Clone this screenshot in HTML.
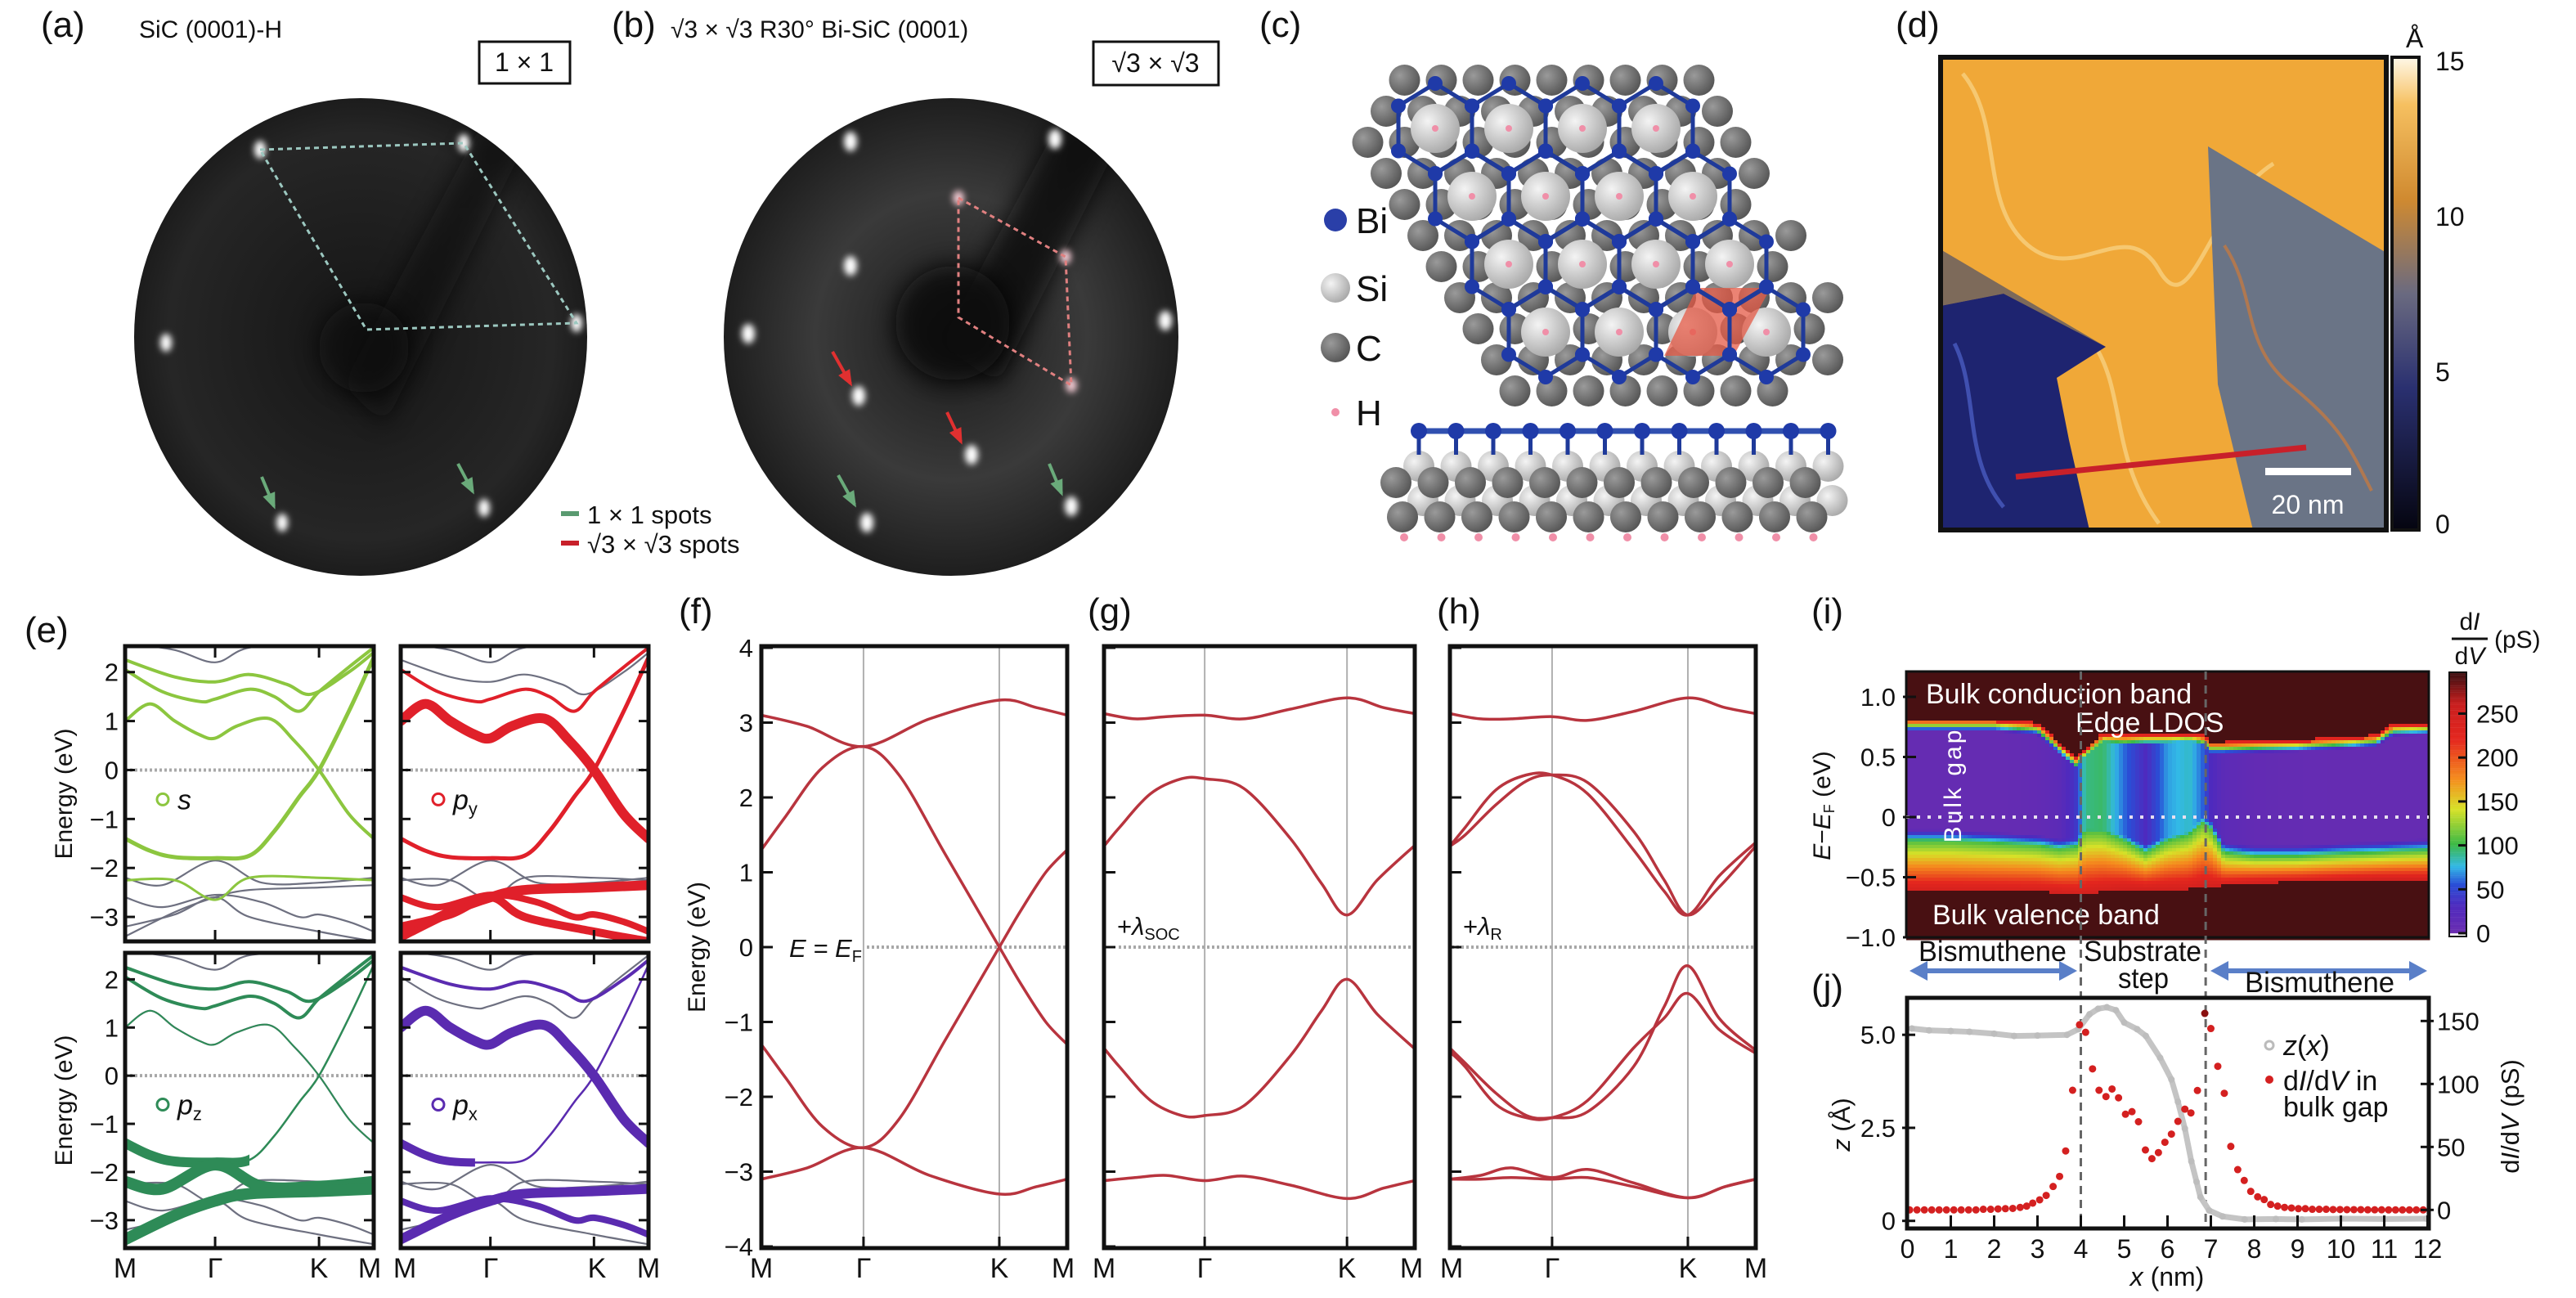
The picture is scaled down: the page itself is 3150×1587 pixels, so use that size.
<!DOCTYPE html>
<html><head><meta charset="utf-8"><style>
html,body{margin:0;padding:0;background:#fff;}
svg{display:block;}
text{font-family:"Liberation Sans Narrow","Liberation Sans",sans-serif;fill:#111;}
</style></head><body>
<svg id="fig" width="3150" height="1587" viewBox="0 0 3150 1587" xmlns="http://www.w3.org/2000/svg">
<defs>
<filter id="blur" x="-1" y="-1" width="3" height="3"><feGaussianBlur stdDeviation="4"/></filter>
<filter id="blur2" x="-1" y="-1" width="3" height="3"><feGaussianBlur stdDeviation="14"/></filter>
<radialGradient id="leedA" cx="0.5" cy="0.5" r="0.5"><stop offset="0" stop-color="#151515"/><stop offset="0.85" stop-color="#262626"/><stop offset="1" stop-color="#1c1c1c"/></radialGradient>
<radialGradient id="leedB" cx="0.5" cy="0.5" r="0.5"><stop offset="0" stop-color="#0e0e0e"/><stop offset="0.3" stop-color="#2a2a2a"/><stop offset="0.6" stop-color="#3a3a3a"/><stop offset="1" stop-color="#1e1e1e"/></radialGradient>
<radialGradient id="siGrad" cx="0.35" cy="0.35" r="0.7"><stop offset="0" stop-color="#f4f4f4"/><stop offset="1" stop-color="#a8a8a8"/></radialGradient>
<radialGradient id="cGrad" cx="0.35" cy="0.35" r="0.7"><stop offset="0" stop-color="#9a9a9a"/><stop offset="1" stop-color="#555"/></radialGradient>
<linearGradient id="stmBar" x1="0" y1="1" x2="0" y2="0"><stop offset="0" stop-color="#050510"/><stop offset="0.3" stop-color="#2a3070"/><stop offset="0.5" stop-color="#6a6a80"/><stop offset="0.7" stop-color="#d08a30"/><stop offset="0.9" stop-color="#f6c060"/><stop offset="1" stop-color="#fff8e8"/></linearGradient>
<clipPath id="clipLeedA"><ellipse cx="441" cy="412" rx="277" ry="292"/></clipPath>
<clipPath id="clipLeedB"><ellipse cx="1163" cy="412" rx="278" ry="292"/></clipPath>
</defs>

<!-- Panel labels -->
<text x="50" y="45" font-size="44">(a)</text>
<text x="170" y="46" font-size="30">SiC (0001)-H</text>
<rect x="586" y="51" width="111" height="51" fill="none" stroke="#111" stroke-width="3"/>
<text x="641" y="87" font-size="32" text-anchor="middle">1 × 1</text>
<text x="748" y="45" font-size="44">(b)</text>
<text x="820" y="46" font-size="30">√3 × √3 R30° Bi-SiC (0001)</text>
<rect x="1337" y="51" width="153" height="53" fill="none" stroke="#111" stroke-width="3"/>
<text x="1413" y="88" font-size="32" text-anchor="middle">√3 × √3</text>
<text x="1540" y="45" font-size="44">(c)</text>
<text x="2318" y="45" font-size="44">(d)</text>

<g id="leed"></g>
<g id="lattice"></g>
<g id="stm"></g>

<text x="30" y="785" font-size="44">(e)</text>
<text x="830" y="762" font-size="44">(f)</text>
<text x="1330" y="762" font-size="44">(g)</text>
<text x="1757" y="762" font-size="44">(h)</text>
<text x="2215" y="762" font-size="44">(i)</text>
<text x="2215" y="1222" font-size="44">(j)</text>

<g id="bands"></g>
<g id="heat"></g>
<g id="profile"></g>
</svg>
<script>
// ---------- DATA ----------
// Panel e: band energies (eV) at k-fractions along M-Γ-K-M (Γ=0.362, K=0.78)
const eb0k=[0,0.1,0.2,0.362,0.5,0.6,0.7,0.78,0.9,1];
const eb0E=[-1.4,-1.65,-1.78,-1.8,-1.75,-1.25,-0.55,0,1.2,2.3];
const eb1k=[0,0.1,0.2,0.3,0.362,0.45,0.58,0.68,0.78,0.9,1];
const eb1E=[1.0,1.35,1.0,0.72,0.65,0.9,1.05,0.6,0,-0.9,-1.4];
const eb2k=[0,0.2,0.362,0.5,0.65,0.75,0.9,1];
const eb2E=[2.25,1.9,1.8,1.95,1.75,1.55,2.0,2.4];
const eb3k=[0,0.15,0.3,0.362,0.5,0.6,0.7,0.78,0.9,1];
const eb3E=[2.05,1.6,1.4,1.45,1.65,1.5,1.2,1.6,2.1,2.5];
const eb4k=[0,0.2,0.362,0.5,0.78,1];
const eb4E=[2.6,2.45,2.2,2.5,2.6,2.7];
const eb5k=[0,0.15,0.362,0.55,0.78,1];
const eb5E=[-2.2,-2.35,-1.85,-2.3,-2.3,-2.2];
const eb6k=[0,0.2,0.362,0.5,0.78,1];
const eb6E=[-3.4,-2.9,-2.6,-2.45,-2.4,-2.35];
const eb7k=[0,0.15,0.362,0.55,0.7,0.78,0.9,1];
const eb7E=[-2.6,-2.8,-2.55,-2.7,-3.0,-2.95,-3.1,-3.3];
const eb8k=[0,0.2,0.362,0.5,0.78,1];
const eb8E=[-3.2,-2.95,-2.6,-3.0,-3.3,-3.5];
const eb9k=[0,0.2,0.362,0.5,0.78,1];
const eb9E=[-2.25,-2.25,-2.65,-2.2,-2.2,-2.25];
// overlay widths per orbital panel (index = band number)
const eWidthS =[5,4,4,4,0,0,0,0,0,3];
const eWidthPy=[5,12,0,4,0,0,12,8,10,0];
const eWidthPz=[12,2,4,4,0,14,14,0,0,0];
const eWidthPx=[10,12,4,0,0,0,12,8,0,0];
// maximum k of the thick overlay (orbital weight fades beyond)
const eKmaxS =[1,1,1,1,1,1,1,1,1,1];
const eKmaxPy=[1,1,1,1,1,1,1,1,1,1];
const eKmaxPz=[0.5,1,1,1,1,1,1,1,1,1];
const eKmaxPx=[0.3,1,1,1,1,1,1,1,1,1];
const eTicks=[2,1,0,-1,-2,-3];

// Panel f (no SOC)
const fB1k=[0,0.15,0.334,0.55,0.778,0.9,1];
const fB1E=[3.1,2.95,2.68,3.05,3.3,3.2,3.1];
const fUpk=[0,0.08,0.2,0.334,0.45,0.6,0.778,0.85,0.93,1];
const fUpE=[1.3,1.75,2.4,2.68,2.3,1.25,0,-0.5,-1.0,-1.3];
const fDnE=[-1.3,-1.75,-2.4,-2.68,-2.3,-1.25,0,0.5,1.0,1.3];
const fB4E=[-3.1,-2.95,-2.68,-3.05,-3.3,-3.2,-3.1];
const fTicks=[4,3,2,1,0,-1,-2,-3,-4];
// Panel g (+SOC)
const gB1k=[0,0.1,0.2,0.324,0.45,0.6,0.782,0.9,1];
const gB1E=[3.12,3.05,3.08,3.1,3.05,3.18,3.33,3.2,3.12];
const gB4E=[-3.12,-3.08,-3.05,-3.12,-3.06,-3.18,-3.36,-3.22,-3.12];
const gB2k=[0,0.05,0.15,0.25,0.324,0.45,0.6,0.7,0.782,0.88,1];
const gB2E=[1.35,1.6,2.05,2.25,2.25,2.12,1.45,0.85,0.43,0.9,1.36];
const gB3E=[-1.35,-1.6,-2.05,-2.25,-2.25,-2.12,-1.45,-0.85,-0.43,-0.9,-1.36];
// Panel h (+Rashba)
const hB1k=[0,0.1,0.2,0.334,0.45,0.6,0.778,0.9,1];
const hB1E=[3.12,3.05,3.05,3.08,3.03,3.15,3.33,3.2,3.12];
const hB2k=[0,0.05,0.15,0.25,0.334,0.45,0.6,0.7,0.778,0.88,1];
const hB2aE=[1.35,1.6,2.1,2.3,2.3,2.05,1.3,0.75,0.43,0.95,1.4];
const hB2bE=[1.35,1.5,1.9,2.22,2.3,2.2,1.55,0.9,0.43,0.8,1.35];
const hB3aE=[-1.35,-1.55,-1.95,-2.25,-2.28,-2.2,-1.6,-0.8,-0.25,-0.95,-1.38];
const hB3bE=[-1.4,-1.6,-2.1,-2.28,-2.28,-2.05,-1.35,-0.95,-0.62,-1.1,-1.42];
const hB4aE=[-3.1,-3.05,-2.95,-3.08,-2.97,-3.15,-3.35,-3.2,-3.1];
const hB4bE=[-3.1,-3.1,-3.08,-3.1,-3.08,-3.2,-3.35,-3.2,-3.1];

// Panel i heatmap columns
const hmX  =[0,1,2,3,3.5,3.9,4.1,4.5,5,5.5,6,6.5,6.8,7,7.3,8,9,10,10.8,11.2,12];
const hmCB =[0.79,0.79,0.79,0.76,0.6,0.47,0.55,0.67,0.66,0.67,0.67,0.68,0.66,0.6,0.6,0.61,0.62,0.64,0.66,0.75,0.76];
const hmVB =[-0.2,-0.2,-0.22,-0.24,-0.27,-0.25,-0.12,-0.12,-0.2,-0.3,-0.2,-0.15,-0.05,-0.1,-0.3,-0.33,-0.33,-0.31,-0.3,-0.29,-0.28];
const hmGap=[5,5,5,8,15,40,90,95,60,30,70,80,60,30,15,8,6,5,5,5,5];
const hmRed=[-0.62,-0.62,-0.62,-0.62,-0.63,-0.64,-0.64,-0.62,-0.6,-0.6,-0.6,-0.6,-0.58,-0.58,-0.57,-0.55,-0.54,-0.53,-0.52,-0.52,-0.52];
const iTicks=[1.0,0.5,0,-0.5,-1.0];
const iTickLabels=["1.0","0.5","0","−0.5","−1.0"];
const cbTicks=[250,200,150,100,50,0];

// Panel j profile
const zX=[0.1,0.5,1.0,1.43,2.0,2.46,3.0,3.68,3.94,4.2,4.4,4.6,4.81,5.0,5.3,5.5,5.83,6.09,6.24,6.4,6.55,6.67,6.76,6.96,7.27,7.78,8.5,9.1,10,11,11.97];
const zY=[5.17,5.12,5.1,5.08,5.03,4.97,4.98,5.0,5.15,5.55,5.7,5.74,5.66,5.33,5.15,4.97,4.38,3.8,3.2,2.48,1.6,1.05,0.64,0.28,0.12,0.04,0.05,0.04,0.06,0.05,0.06];
const dX=[0.05,0.22,0.39,0.56,0.73,0.9,1.07,1.24,1.41,1.58,1.75,1.92,2.09,2.26,2.43,2.6,2.75,2.89,3.05,3.2,3.36,3.51,3.65,3.81,3.97,4.11,4.27,4.42,4.58,4.72,4.87,5.03,5.18,5.33,5.49,5.64,5.79,5.94,6.09,6.24,6.4,6.54,6.69,6.86,7.0,7.16,7.31,7.46,7.62,7.77,7.92,8.08,8.23,8.38,8.54,8.7,8.86,9.02,9.18,9.34,9.5,9.66,9.82,9.98,10.14,10.3,10.46,10.62,10.78,10.94,11.1,11.26,11.42,11.58,11.74,11.9];
const dY=[0,0,0,0,0,0,0,0,0,0,0.5,0.5,0.8,1,1.2,2,3,5.4,8,11.5,18.6,26.6,46.8,95,147,141,112,95,90,96,89,76,78,70,47.6,40.7,45.5,53.7,60.2,70.3,80,77,94.8,156,144,114,92.6,50.4,32,23.4,14.7,10.4,8.2,4.3,3,2,1.5,1,1,0.5,0.5,0.5,0.3,0.3,0.2,0.2,0.2,0.1,0.1,0.1,0,0,0,0,0,0];
const jxTicks=[0,1,2,3,4,5,6,7,8,9,10,11,12];
const jzTicks=[5.0,2.5,0];
const jzTickLabels=["5.0","2.5","0"];
const jdTicks=[150,100,50,0];

// ---------- HELPERS ----------
const NS='http://www.w3.org/2000/svg';
function mk(tag,attrs,parent){const e=document.createElementNS(NS,tag);for(const k in attrs)e.setAttribute(k,attrs[k]);parent.appendChild(e);return e;}
function smooth(pts){let d='M'+pts[0][0].toFixed(1)+','+pts[0][1].toFixed(1);for(let i=0;i<pts.length-1;i++){const p0=pts[i-1]||pts[i],p1=pts[i],p2=pts[i+1],p3=pts[i+2]||pts[i+1];const c1=[p1[0]+(p2[0]-p0[0])/6,p1[1]+(p2[1]-p0[1])/6],c2=[p2[0]-(p3[0]-p1[0])/6,p2[1]-(p3[1]-p1[1])/6];d+=' C'+c1[0].toFixed(1)+','+c1[1].toFixed(1)+' '+c2[0].toFixed(1)+','+c2[1].toFixed(1)+' '+p2[0].toFixed(1)+','+p2[1].toFixed(1);}return d;}
function interp(xs,ys,x){if(x<=xs[0])return ys[0];for(let i=1;i<xs.length;i++){if(x<=xs[i]){const t=(x-xs[i-1])/(xs[i]-xs[i-1]);return ys[i-1]+t*(ys[i]-ys[i-1]);}}return ys[ys.length-1];}
const stops=[[0,[106,44,176]],[30,[78,42,190]],[55,[40,80,215]],[75,[50,185,230]],[100,[60,185,70]],[140,[215,225,40]],[175,[245,140,30]],[220,[228,38,30]],[260,[200,30,30]],[292,[72,16,18]]];
function cmap(v){v=Math.max(0,Math.min(292,v));for(let i=1;i<stops.length;i++){if(v<=stops[i][0]){const a=stops[i-1],b=stops[i],t=(v-a[0])/(b[0]-a[0]);const c=a[1].map((x,j)=>Math.round(x+t*(b[1][j]-x)));return 'rgb('+c.join(',')+')';}}return 'rgb(72,16,18)';}

const svg=document.getElementById('fig');

// ---------- LEED (a,b) ----------
const leed=document.getElementById('leed');
const ea=mk('ellipse',{cx:441,cy:412,rx:277,ry:292,fill:'url(#leedA)'},leed);


const shA=mk('g',{"clip-path":'url(#clipLeedA)'},leed);
mk('polygon',{points:'420,470 470,520 640,180 590,150',fill:'#101010',opacity:0.6,filter:'url(#blur2)'},shA);
mk('circle',{cx:445,cy:425,r:55,fill:'#0c0c0c',opacity:0.7,filter:'url(#blur2)'},shA);
const eb=mk('ellipse',{cx:1163,cy:412,rx:278,ry:292,fill:'url(#leedB)'},leed);


const shB=mk('g',{"clip-path":'url(#clipLeedB)'},leed);
mk('polygon',{points:'1150,420 1220,470 1370,170 1300,140',fill:'#0c0c0c',opacity:0.85,filter:'url(#blur2)'},shB);
mk('circle',{cx:1165,cy:395,r:70,fill:'#080808',opacity:0.9,filter:'url(#blur2)'},shB);
const spotsA=[[318,183],[567,175],[705,395],[203,419],[345,639],[592,621]];
spotsA.forEach(p=>{const s=mk('ellipse',{cx:p[0],cy:p[1],rx:7,ry:11,fill:'#fff',filter:'url(#blur)'},leed);});
const spotsB=[[1040,173],[1290,170],[1040,325],[915,408],[1425,392],[1050,484],[1188,556],[1060,639],[1310,619]];
spotsB.forEach(p=>{const s=mk('ellipse',{cx:p[0],cy:p[1],rx:8,ry:12,fill:'#fff',filter:'url(#blur)'},leed);});
[[1172,242],[1303,314],[1310,471]].forEach(p=>{const s=mk('ellipse',{cx:p[0],cy:p[1],rx:7,ry:9,fill:'#f0c8d0',filter:'url(#blur)'},leed);});
const ua=mk('polygon',{points:'318,183 567,175 705,395 448,403',fill:'none',stroke:'#9cc8c0',"stroke-width":3,"stroke-dasharray":'6,5'},leed);


const ub=mk('polygon',{points:'1172,242 1303,314 1310,471 1172,388',fill:'none',stroke:'#e08080',"stroke-width":3,"stroke-dasharray":'6,5'},leed);


function arrow(x1,y1,x2,y2,col,name){const g=mk('g',{},leed);mk('line',{x1:x1,y1:y1,x2:x2,y2:y2,stroke:col,"stroke-width":4},g);const a=Math.atan2(y2-y1,x2-x1),L=16,W=8;const bx=x2-L*Math.cos(a),by=y2-L*Math.sin(a);mk('polygon',{points:`${x2+4*Math.cos(a)},${y2+4*Math.sin(a)} ${bx-W*Math.sin(a)},${by+W*Math.cos(a)} ${bx+W*Math.sin(a)},${by-W*Math.cos(a)}`,fill:col},g);}
arrow(320,583,335,619,'#6aaa7a','green-arrow');arrow(560,567,578,601,'#6aaa7a','green-arrow');
arrow(1025,581,1045,617,'#6aaa7a','green-arrow');arrow(1283,567,1298,603,'#6aaa7a','green-arrow');
arrow(1018,430,1040,469,'#e03030','red-arrow');arrow(1158,504,1175,540,'#e03030','red-arrow');
const lg1=mk('rect',{x:686,y:625,width:22,height:6,fill:'#5a9a70'},leed);


const lg2=mk('rect',{x:686,y:661,width:22,height:6,fill:'#c8202a'},leed);


const lt1=mk('text',{x:718,y:640,"font-size":31},leed);lt1.textContent='1 × 1 spots';


const lt2=mk('text',{x:718,y:676,"font-size":31},leed);lt2.textContent='√3 × √3 spots';



// ---------- Lattice (c) ----------
const lat=document.getElementById('lattice');
const hexC=[];for(let j=0;j<=3;j++){for(let i=0;i<4;i++){hexC.push([1755+90*i+45*j,157+83*j]);}}
function nearHex(x,y){return hexC.some(c=>{const dx=x-c[0],dy=y-c[1];return dx*dx+dy*dy<88*88;});}
for(let j=-2;j<16;j++){for(let i=-4;i<16;i++){const x=1650+i*45+j*22.5,y=60+j*38;if(y>55&&y<490&&nearHex(x,y)){mk('circle',{cx:x,cy:y,r:19,fill:'url(#cGrad)'},lat);}}}
hexC.forEach(c=>{mk('circle',{cx:c[0],cy:c[1],r:30,fill:'url(#siGrad)'},lat);mk('circle',{cx:c[0],cy:c[1],r:4,fill:'#f08fa8'},lat);});
const rh=mk('polygon',{points:'2075,352 2165,352 2120,435 2035,435',fill:'rgba(228,90,70,0.75)'},lat);


const hexNodes=[];
hexC.forEach(c=>{const v=[[0,-55],[45,-27.5],[45,27.5],[0,55],[-45,27.5],[-45,-27.5]].map(o=>[c[0]+o[0],c[1]+o[1]]);let d='M'+v.map(p=>p.join(',')).join(' L')+' Z';const h=mk('path',{d:d,fill:'none',stroke:'#1f3a9a',"stroke-width":5},lat);v.forEach(p=>hexNodes.push(p));});
hexNodes.forEach(p=>mk('circle',{cx:p[0],cy:p[1],r:9,fill:'#1f3aa8'},lat));
[['Bi',269,'#2a3fa8',14],['Si',352,'url(#siGrad)',18],['C',425,'url(#cGrad)',18],['H',504,'#f08fa8',5]].forEach((l,idx)=>{const c=mk('circle',{cx:1633,cy:l[1],r:l[3],fill:l[2]},lat);const t=mk('text',{x:1658,y:l[1]+16,"font-size":44},lat);t.textContent=l[0];});
const sideG=mk('g',{},lat);


for(let k=0;k<12;k++){const x=1735+k*45.5;mk('circle',{cx:x+5,cy:612,r:19,fill:'url(#siGrad)'},sideG);mk('circle',{cx:x-20,cy:632,r:19,fill:'url(#cGrad)'},sideG);mk('circle',{cx:x-18,cy:657,r:5,fill:'#f08fa8'},sideG);}
for(let k=0;k<12;k++){const x=1735+k*45.5;mk('circle',{cx:x,cy:570,r:19,fill:'url(#siGrad)'},sideG);mk('circle',{cx:x-28,cy:590,r:19,fill:'url(#cGrad)'},sideG);mk('line',{x1:x,y1:527,x2:x,y2:556,stroke:'#1f3a9a',"stroke-width":5},sideG);}
mk('line',{x1:1735,y1:527,x2:2235,y2:527,stroke:'#3050b0',"stroke-width":7},sideG);
for(let k=0;k<12;k++){mk('circle',{cx:1735+k*45.5,cy:527,r:10,fill:'#1f3aa8'},sideG);}

// ---------- STM (d) ----------
const stm=document.getElementById('stm');
const sb=mk('rect',{x:2373,y:70,width:545,height:578,fill:'#f0a838'},stm);


mk('path',{d:'M2400,90 C2450,150 2420,250 2480,300 S2600,260 2640,330 S2700,250 2780,200 M2560,420 C2600,480 2580,560 2640,640',fill:'none',stroke:'#f8d080',"stroke-width":5,opacity:0.8},stm);
mk('polygon',{points:'2373,305 2575,424 2450,359 2373,374',fill:'#7d6a5a'},stm);
mk('polygon',{points:'2373,374 2450,359 2575,424 2515,462 2530,538 2555,648 2373,648',fill:'#1e2470'},stm);
mk('path',{d:'M2390,420 C2420,480 2400,560 2450,620',fill:'none',stroke:'#4050b0',"stroke-width":5},stm);
mk('polygon',{points:'2700,179 2918,309 2918,648 2755,648 2712,470',fill:'#6a7486'},stm);
mk('path',{d:'M2720,300 C2760,360 2740,420 2800,470 S2870,540 2900,600',fill:'none',stroke:'#b07850',"stroke-width":4},stm);
const rl=mk('line',{x1:2465,y1:583,x2:2820,y2:547,stroke:'#c8202a',"stroke-width":7},stm);


const scb=mk('rect',{x:2770,y:572,width:105,height:9,fill:'#fff'},stm);


const sct=mk('text',{x:2822,y:628,"font-size":32,"text-anchor":'middle',fill:'#fff'},stm);sct.textContent='20 nm';sct.style.fill='#fff';


mk('rect',{x:2373,y:70,width:545,height:578,fill:'none',stroke:'#111',"stroke-width":6},stm);
const scbar=mk('rect',{x:2925,y:70,width:33,height:578,fill:'url(#stmBar)',stroke:'#111',"stroke-width":4},stm);


[['15',86],['10',276],['5',466],['0',652]].forEach(t=>{const e=mk('text',{x:2978,y:t[1],"font-size":32},stm);e.textContent=t[0];});
const ang=mk('text',{x:2942,y:58,"font-size":32},stm);ang.textContent='Å';



// ---------- Band structure panels ----------
const bandsG=document.getElementById('bands');
let clipId=0;
function panel(p,name){const g=mk('g',{},bandsG);const id='clip'+(clipId++);const cp=mk('clipPath',{id:id},g);mk('rect',{x:p.x0,y:p.y0,width:p.x1-p.x0,height:p.y1-p.y0},cp);const inner=mk('g',{"clip-path":'url(#'+id+')'},g);p.g=g;p.inner=inner;p.sx=k=>p.x0+k*(p.x1-p.x0);p.sy=E=>p.ey0+(p.Emax-E)/(p.Emax-p.Emin)*(p.ey1-p.ey0);return p;}
function band(p,ks,Es,col,w,name,kmax){const pts=ks.map((k,i)=>[p.sx(k),p.sy(Es[i])]);let parent=p.inner;if(kmax!==undefined&&kmax<1){const id='clip'+(clipId++);const cp=mk('clipPath',{id:id},p.g);mk('rect',{x:p.x0,y:p.y0,width:p.sx(kmax)-p.x0,height:p.y1-p.y0},cp);parent=mk('g',{"clip-path":'url(#'+id+')'},p.inner);}const e=mk('path',{d:smooth(pts),fill:'none',stroke:col,"stroke-width":w,"stroke-linecap":'round'},parent);return e;}
function frame(p){const r=mk('rect',{x:p.x0,y:p.y0,width:p.x1-p.x0,height:p.y1-p.y0,fill:'none',stroke:'#111',"stroke-width":5},p.g);}
function zeroLine(p,xs){const l=mk('line',{x1:xs,y1:p.sy(0),x2:p.x1,y2:p.sy(0),stroke:'#a8a8a8',"stroke-width":4,"stroke-dasharray":'3,3'},p.inner);}

const eBandsK=[eb0k,eb1k,eb2k,eb3k,eb4k,eb5k,eb6k,eb7k,eb8k,eb9k];
const eBandsE=[eb0E,eb1E,eb2E,eb3E,eb4E,eb5E,eb6E,eb7E,eb8E,eb9E];
const ePanels=[
 {x0:153,x1:457,y0:790,y1:1151,ey0:790,ey1:1151,Emin:-3.5,Emax:2.53,col:'#8cc63f',w:eWidthS,km:eKmaxS,lab:'s',name:'band-panel-s'},
 {x0:490,x1:793,y0:790,y1:1151,ey0:790,ey1:1151,Emin:-3.5,Emax:2.53,col:'#e0202a',w:eWidthPy,km:eKmaxPy,lab:'p',sub:'y',name:'band-panel-py'},
 {x0:153,x1:457,y0:1165,y1:1526,ey0:1165,ey1:1526,Emin:-3.58,Emax:2.55,col:'#2e8b57',w:eWidthPz,km:eKmaxPz,lab:'p',sub:'z',name:'band-panel-pz'},
 {x0:490,x1:793,y0:1165,y1:1526,ey0:1165,ey1:1526,Emin:-3.58,Emax:2.55,col:'#5a2bb0',w:eWidthPx,km:eKmaxPx,lab:'p',sub:'x',name:'band-panel-px'}];
ePanels.forEach((q,qi)=>{const p=panel(q,q.name);zeroLine(p,p.x0);
 eBandsK.forEach((k,i)=>band(p,k,eBandsE[i],'#6e7080',2.2,'band-gray'));
 eBandsK.forEach((k,i)=>{if(q.w[i]>0){band(p,k,eBandsE[i],q.col,q.w[i],'orbital-weight-band',q.km[i]);if(q.km[i]<1)band(p,k,eBandsE[i],q.col,2.5,'orbital-weight-band-thin');}});
 frame(p);
 [0.362,0.78].forEach(k=>{mk('line',{x1:p.sx(k),y1:p.y0,x2:p.sx(k),y2:p.y0+14,stroke:'#111',"stroke-width":3},p.g);mk('line',{x1:p.sx(k),y1:p.y1,x2:p.sx(k),y2:p.y1-14,stroke:'#111',"stroke-width":3},p.g);});
 eTicks.forEach(t=>{mk('line',{x1:p.x0,y1:p.sy(t),x2:p.x0+12,y2:p.sy(t),stroke:'#111',"stroke-width":3},p.g);mk('line',{x1:p.x1,y1:p.sy(t),x2:p.x1-12,y2:p.sy(t),stroke:'#111',"stroke-width":3},p.g);
   if(qi%2===0){const tl=mk('text',{x:p.x0-8,y:p.sy(t)+11,"font-size":31,"text-anchor":'end'},p.g);tl.textContent=t<0?'−'+(-t):String(t);}});
 const lc=mk('circle',{cx:p.x0+46,cy:p.sy(-0.6),r:7,fill:'none',stroke:q.col,"stroke-width":3},p.g);
 
 
 const lt=mk('text',{x:p.x0+64,y:p.sy(-0.6)+12,"font-size":34,"font-style":'italic'},p.g);lt.textContent=q.lab;
 if(q.sub){const ts=mk('tspan',{"font-size":22,dy:7,"font-style":'normal'},lt);ts.textContent=q.sub;}
 
 
 if(qi%2===0){const yl=mk('text',{x:0,y:0,"font-size":30,"text-anchor":'middle',transform:`translate(88,${(p.y0+p.y1)/2}) rotate(-90)`,"font-family":'Liberation Sans'},p.g);yl.textContent='Energy (eV)';}
});

const fgh=[
 {x0:931,x1:1305,y0:790,y1:1526,ey0:792,ey1:1524,Emin:-4,Emax:4,kG:0.334,kK:0.778,name:'band-panel-f',zx:1060},
 {x0:1350,x1:1730,y0:790,y1:1526,ey0:792,ey1:1524,Emin:-4,Emax:4,kG:0.324,kK:0.782,name:'band-panel-g',zx:1368},
 {x0:1773,x1:2147,y0:790,y1:1526,ey0:792,ey1:1524,Emin:-4,Emax:4,kG:0.334,kK:0.778,name:'band-panel-h',zx:1775}].map(q=>panel(q,q.name));
const RED='#b8343e';
fgh.forEach(p=>{[p.kG,p.kK].forEach(k=>{const v=mk('line',{x1:p.sx(k),y1:p.y0,x2:p.sx(k),y2:p.y1,stroke:'#b0b0b0',"stroke-width":2},p.inner);});zeroLine(p,p.zx);});
band(fgh[0],fB1k,fB1E,RED,3.5,'band-f-1');band(fgh[0],fUpk,fUpE,RED,3.5,'band-f-2');band(fgh[0],fUpk,fDnE,RED,3.5,'band-f-3');band(fgh[0],fB1k,fB4E,RED,3.5,'band-f-4');
band(fgh[1],gB1k,gB1E,RED,3.5,'band-g-1');band(fgh[1],gB2k,gB2E,RED,3.5,'band-g-2');band(fgh[1],gB2k,gB3E,RED,3.5,'band-g-3');band(fgh[1],gB1k,gB4E,RED,3.5,'band-g-4');
band(fgh[2],hB1k,hB1E,RED,3.5,'band-h-1');band(fgh[2],hB2k,hB2aE,RED,3.5,'band-h-2a');band(fgh[2],hB2k,hB2bE,RED,3.5,'band-h-2b');band(fgh[2],hB2k,hB3aE,RED,3.5,'band-h-3a');band(fgh[2],hB2k,hB3bE,RED,3.5,'band-h-3b');band(fgh[2],hB1k,hB4aE,RED,3.5,'band-h-4a');band(fgh[2],hB1k,hB4bE,RED,3.5,'band-h-4b');
fgh.forEach((p,pi)=>{frame(p);fTicks.forEach(t=>{mk('line',{x1:p.x0,y1:p.sy(t),x2:p.x0+14,y2:p.sy(t),stroke:'#111',"stroke-width":3},p.g);if(pi===0){const tl=mk('text',{x:p.x0-10,y:p.sy(t)+11,"font-size":31,"text-anchor":'end'},p.g);tl.textContent=t<0?'−'+(-t):String(t);}});
 [p.kG,p.kK].forEach(k=>mk('line',{x1:p.sx(k),y1:p.y1,x2:p.sx(k),y2:p.y1-14,stroke:'#111',"stroke-width":3},p.g));});
const fy=mk('text',{x:0,y:0,"font-size":30,"text-anchor":'middle',transform:'translate(862,1158) rotate(-90)',"font-family":'Liberation Sans'},bandsG);fy.textContent='Energy (eV)';


const ann1=mk('text',{x:965,y:1170,"font-size":31,"font-style":'italic'},bandsG);ann1.innerHTML='E = E<tspan font-size="20" dy="6" font-style="normal">F</tspan>';


const ann2=mk('text',{x:1366,y:1143,"font-size":31},bandsG);ann2.innerHTML='+<tspan font-style="italic">λ</tspan><tspan font-size="20" dy="6">SOC</tspan>';


const ann3=mk('text',{x:1789,y:1143,"font-size":31},bandsG);ann3.innerHTML='+<tspan font-style="italic">λ</tspan><tspan font-size="20" dy="6">R</tspan>';


// x labels
const kLabels=[['M',153],['Γ',263],['K',390],['M',452],['M',495],['Γ',600],['K',730],['M',793],['M',931],['Γ',1056],['K',1222],['M',1300],['M',1350],['Γ',1473],['K',1647],['M',1726],['M',1775],['Γ',1898],['K',2064],['M',2147]];
kLabels.forEach(l=>{const t=mk('text',{x:l[1],y:1562,"font-size":34,"text-anchor":'middle'},bandsG);t.textContent=l[0];});

// ---------- Heatmap (i) ----------
const heat=document.getElementById('heat');
const hx=x=>2332.5+53*x, hy=E=>999-147*E;
const hmG=mk('g',{},heat);


const HX0=2331,HX1=2970,HY0=821,HY1=1146,cw=5,ch=4;
for(let px=HX0;px<HX1;px+=cw){const x=(px+cw/2-2332.5)/53;const cb=interp(hmX,hmCB,x),vb=interp(hmX,hmVB,x),g=interp(hmX,hmGap,x),rd=interp(hmX,hmRed,x);
 for(let py=HY0;py<HY1;py+=ch){const E=(999-(py+ch/2))/147;let v;
  if(E>=cb){v=(E-cb<0.025)?225:292;}
  else if(E>vb){const d1=cb-E,d2=E-vb;v=g;if(d1<0.08)v=Math.max(v,190*(1-d1/0.08));if(d2<0.1)v=Math.max(v,105*(1-d2/0.1));}
  else{const t=(vb-E)/(vb-rd);v=t>1?292:105+t*140;}
  mk('rect',{x:px,y:py,width:cw+0.5,height:ch+0.5,fill:cmap(v)},hmG);}}
mk('rect',{x:HX0,y:HY0,width:HX1-HX0,height:HY1-HY0,fill:'none',stroke:'#111',"stroke-width":3},heat);
const hz=mk('line',{x1:HX0,y1:hy(0),x2:HX1,y2:hy(0),stroke:'#e8e0f0',"stroke-width":4,"stroke-dasharray":'4,9'},heat);


iTicks.forEach((t,i)=>{mk('line',{x1:HX0-4,y1:hy(t),x2:HX0+12,y2:hy(t),stroke:'#111',"stroke-width":3},heat);const tl=mk('text',{x:2318,y:hy(t)+11,"font-size":31,"text-anchor":'end'},heat);tl.textContent=iTickLabels[i];});
const iyt=mk('text',{x:0,y:0,"font-size":30,"text-anchor":'middle',transform:'translate(2238,985) rotate(-90)'},heat);iyt.innerHTML='<tspan font-style="italic">E</tspan>−<tspan font-style="italic">E</tspan><tspan font-size="18" dy="5">F</tspan><tspan dy="-5"> (eV)</tspan>';


[['Bulk conduction band',2355,860],['Edge LDOS',2538,895],['Bulk valence band',2363,1130]].forEach(l=>{const t=mk('text',{x:l[1],y:l[2],"font-size":34},heat);t.textContent=l[0];t.style.fill='#fff';});
const bg=mk('text',{x:0,y:0,"font-size":30,"text-anchor":'middle',transform:'translate(2398,960) rotate(-90)',"font-family":'Liberation Sans',"letter-spacing":'3'},heat);bg.textContent='Bulk  gap';bg.style.fill='#fff';


// colorbar
const cbG=mk('g',{},heat);


const cby=v=>1141-1.074*v;
for(let v=0;v<297;v+=2){mk('rect',{x:2995,y:cby(v+2),width:21,height:2.3,fill:cmap(v)},cbG);}
mk('rect',{x:2995,y:cby(297),width:21,height:cby(0)-cby(297)+4,fill:'none',stroke:'#111',"stroke-width":2},cbG);
cbTicks.forEach(t=>{mk('line',{x1:3016,y1:cby(t),x2:3006,y2:cby(t),stroke:'#111',"stroke-width":3},cbG);const tl=mk('text',{x:3028,y:cby(t)+11,"font-size":31},cbG);tl.textContent=String(t);});
const cbt=mk('g',{},heat);


mk('text',{x:3020,y:770,"font-size":30,"text-anchor":'middle'},cbt).innerHTML='d<tspan font-style="italic">I</tspan>';
mk('line',{x1:2998,y1:781,x2:3042,y2:781,stroke:'#111',"stroke-width":3},cbt);
mk('text',{x:3020,y:812,"font-size":30,"text-anchor":'middle'},cbt).innerHTML='d<tspan font-style="italic">V</tspan>';
mk('text',{x:3050,y:792,"font-size":30},cbt).textContent='(pS)';

// ---------- Profile (j) ----------
const prof=document.getElementById('profile');
const jx=x=>2332.5+53*x, jz=z=>1492.7-45.5*z, jd=v=>1479.3-1.54*v;
[4,6.88].forEach(x=>{const l=mk('line',{x1:jx(x),y1:821,x2:jx(x),y2:1502,stroke:'#666',"stroke-width":3,"stroke-dasharray":'10,7'},prof);});
function darrow(x1,x2,y,name){const g=mk('g',{},prof);mk('line',{x1:x1+14,y1:y,x2:x2-14,y2:y,stroke:'#5a7fc8',"stroke-width":6},g);mk('polygon',{points:`${x1},${y} ${x1+22},${y-12} ${x1+22},${y+12}`,fill:'#5a7fc8'},g);mk('polygon',{points:`${x2},${y} ${x2-22},${y-12} ${x2-22},${y+12}`,fill:'#5a7fc8'},g);}
darrow(2335,2540,1187,'bismuthene-arrow-left');darrow(2703,2968,1187,'bismuthene-arrow-right');
[['Bismuthene',2346,1175,181],['Substrate',2548,1175,144],['step',2590,1208,62],['Bismuthene',2745,1213,183]].forEach(l=>{const t=mk('text',{x:l[1],y:l[2],"font-size":35,textLength:l[3],lengthAdjust:'spacingAndGlyphs'},prof);t.textContent=l[0];});
const zl=mk('polyline',{points:zX.map((x,i)=>jx(x)+','+jz(zY[i])).join(' '),fill:'none',stroke:'#c4c4c4',"stroke-width":7,"stroke-linejoin":'round'},prof);


zX.forEach((x,i)=>{const c=mk('circle',{cx:jx(x),cy:jz(zY[i]),r:4,fill:'#bdbdbd'},prof);});
dX.forEach((x,i)=>{const c=mk('circle',{cx:jx(x),cy:jd(dY[i]),r:4.5,fill:dY[i]>150?'#8a1010':'#d42020'},prof);});
const jf=mk('rect',{x:2332,y:1220,width:638,height:282,fill:'none',stroke:'#111',"stroke-width":5},prof);


jxTicks.forEach(t=>{mk('line',{x1:jx(t),y1:1502,x2:jx(t),y2:1486,stroke:'#111',"stroke-width":3},prof);const tl=mk('text',{x:jx(t),y:1538,"font-size":32,"text-anchor":'middle'},prof);tl.textContent=String(t);});
jzTicks.forEach((t,i)=>{mk('line',{x1:2326,y1:jz(t),x2:2342,y2:jz(t),stroke:'#111',"stroke-width":3},prof);const tl=mk('text',{x:2318,y:jz(t)+11,"font-size":31,"text-anchor":'end'},prof);tl.textContent=jzTickLabels[i];});
jdTicks.forEach(t=>{mk('line',{x1:2960,y1:jd(t),x2:2976,y2:jd(t),stroke:'#111',"stroke-width":3},prof);const tl=mk('text',{x:2980,y:jd(t)+11,"font-size":31},prof);tl.textContent=String(t);});
const xt=mk('text',{x:2650,y:1572,"font-size":32,"text-anchor":'middle'},prof);xt.innerHTML='<tspan font-style="italic">x</tspan> (nm)';


const zt=mk('text',{x:0,y:0,"font-size":31,"text-anchor":'middle',transform:'translate(2262,1375) rotate(-90)'},prof);zt.innerHTML='<tspan font-style="italic">z</tspan> (Å)';


const dt=mk('text',{x:0,y:0,"font-size":31,"text-anchor":'middle',transform:'translate(3080,1365) rotate(-90)',"font-family":'Liberation Sans'},prof);dt.innerHTML='d<tspan font-style="italic">I</tspan>/d<tspan font-style="italic">V</tspan> (pS)';


const lz=mk('circle',{cx:2775,cy:1278,r:5,fill:'none',stroke:'#bbb',"stroke-width":3},prof);


const lzt=mk('text',{x:2792,y:1290,"font-size":34},prof);lzt.innerHTML='<tspan font-style="italic">z</tspan>(<tspan font-style="italic">x</tspan>)';


const ld=mk('circle',{cx:2775,cy:1320,r:5,fill:'#d42020'},prof);


const ldt=mk('text',{x:2792,y:1333,"font-size":34},prof);ldt.innerHTML='d<tspan font-style="italic">I</tspan>/d<tspan font-style="italic">V</tspan> in';


const ldt2=mk('text',{x:2792,y:1365,"font-size":34},prof);ldt2.textContent='bulk gap';


</script>
</body></html>
